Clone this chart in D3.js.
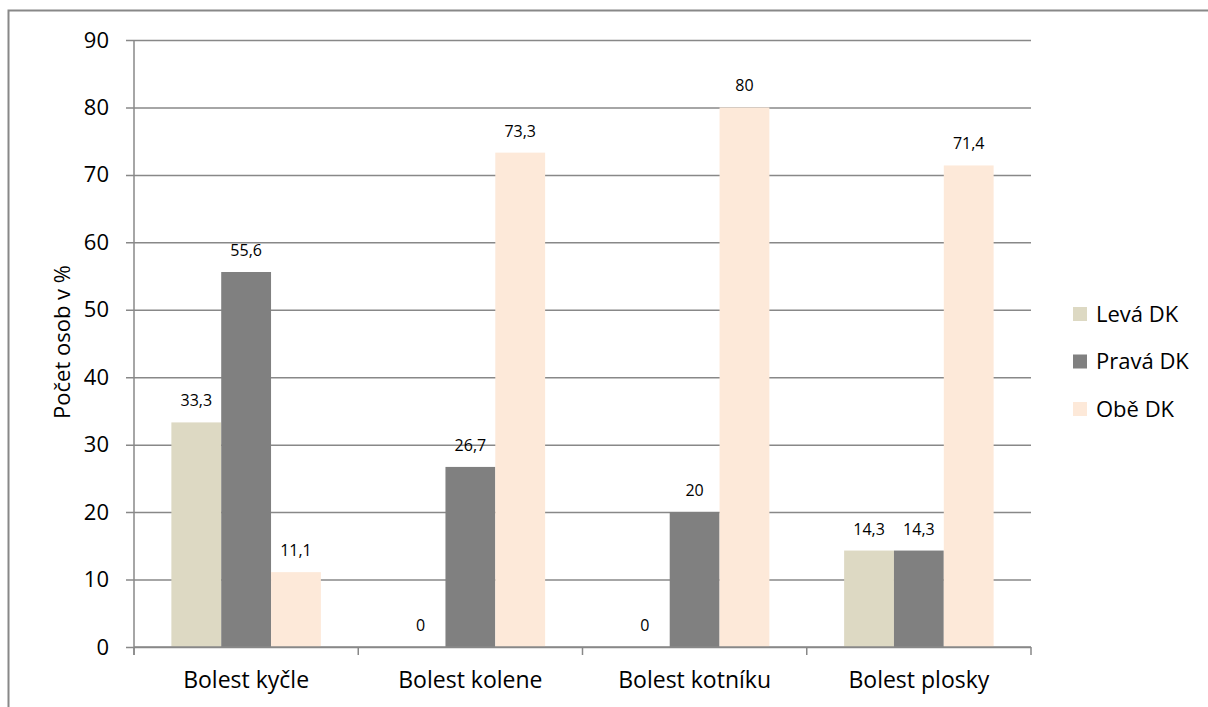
<!DOCTYPE html>
<html>
<head>
<meta charset="utf-8">
<script src="https://cdn.jsdelivr.net/npm/d3@7"></script>
<style>
  html, body { margin: 0; padding: 0; background: #fff; }
  svg { display: block; font-family: "Open Sans", Lato, sans-serif; }
</style>
</head>
<body>
<svg id="chart" width="1208" height="707"></svg>
<script>
// Pain location by affected limb (percent of persons)
const categories = ["Bolest kyčle", "Bolest kolene", "Bolest kotníku", "Bolest plosky"];
const seriesNames = ["Levá DK", "Pravá DK", "Obě DK"];
const levaDK  = [33.3, 0, 0, 14.3];
const pravaDK = [55.6, 26.7, 20, 14.3];
const obeDK   = [11.1, 73.3, 80, 71.4];
const yTicks = [0, 10, 20, 30, 40, 50, 60, 70, 80, 90];
const yTitle = "Počet osob v %";

const seriesValues = [levaDK, pravaDK, obeDK];
const colors = ["#ddd9c3", "#808080", "#fde9d9"];

const svg = d3.select("#chart");
const gridColor = "#888888";
const fontFamily = "'Open Sans', Lato, sans-serif";

// outer chart frame
svg.append("rect")
  .attr("x", 8.5).attr("y", 10.5)
  .attr("width", 1400).attr("height", 900)
  .attr("fill", "none").attr("stroke", "#888888").attr("stroke-width", 2);

const plotLeft = 134, plotRight = 1031, plotTop = 40, plotBottom = 647;

const y = d3.scaleLinear().domain([0, 90]).range([plotBottom, plotTop]);
const x0 = d3.scaleBand().domain(categories).range([plotLeft, plotRight]).paddingInner(0).paddingOuter(0);
const groupInset = x0.bandwidth() / 6;
const x1 = d3.scaleBand().domain(seriesNames)
  .range([groupInset, x0.bandwidth() - groupInset]).padding(0);

// horizontal gridlines with left tick marks
const yAxis = d3.axisLeft(y).tickValues(yTicks)
  .tickSize(-(plotRight - plotLeft)).tickSizeOuter(0).tickPadding(25)
  .tickFormat(d3.format("d"));
const gy = svg.append("g").attr("transform", `translate(${plotLeft},0)`).call(yAxis);
gy.select(".domain").remove();
gy.selectAll(".tick line")
  .attr("x1", -8)
  .attr("stroke", gridColor).attr("stroke-width", 1.5);
gy.selectAll(".tick text")
  .attr("font-size", 22).attr("fill", "#000")
  .attr("font-family", fontFamily);

// bars
const groups = svg.append("g").selectAll("g")
  .data(categories)
  .join("g")
  .attr("transform", d => `translate(${x0(d)},0)`);

groups.selectAll("rect")
  .data((c, i) => seriesNames.map((s, k) => ({ s, v: seriesValues[k][i], k })))
  .join("rect")
  .attr("x", d => x1(d.s))
  .attr("y", d => y(d.v))
  .attr("width", x1.bandwidth())
  .attr("height", d => y(0) - y(d.v))
  .attr("fill", d => colors[d.k]);

// value labels
groups.selectAll("text.val")
  .data((c, i) => seriesNames.map((s, k) => ({ s, v: seriesValues[k][i], k })))
  .join("text")
  .attr("class", "val")
  .attr("x", d => x1(d.s) + x1.bandwidth() / 2)
  .attr("y", d => y(d.v) - 16)
  .attr("text-anchor", "middle")
  .attr("font-size", 16)
  .attr("fill", "#000")
  .text(d => String(d.v).replace(".", ","));

// vertical axis line
svg.append("line")
  .attr("x1", plotLeft).attr("x2", plotLeft)
  .attr("y1", plotTop).attr("y2", plotBottom + 8)
  .attr("stroke", gridColor).attr("stroke-width", 1.5);

// category axis
const xAxis = d3.axisBottom(x0).tickSize(0);
const gx = svg.append("g").attr("transform", `translate(0,${plotBottom})`).call(xAxis);
gx.select(".domain").remove();
gx.selectAll(".tick text")
  .attr("y", 41).attr("dy", 0)
  .attr("font-size", 23).attr("fill", "#000")
  .attr("font-family", fontFamily);
svg.append("line")
  .attr("x1", plotLeft).attr("x2", plotRight)
  .attr("y1", plotBottom).attr("y2", plotBottom)
  .attr("stroke", gridColor).attr("stroke-width", 1.5);
// category separators
const boundaries = categories.map(c => x0(c)).concat([plotRight]);
svg.append("g").selectAll("line")
  .data(boundaries)
  .join("line")
  .attr("x1", d => d).attr("x2", d => d)
  .attr("y1", plotBottom).attr("y2", plotBottom + 8)
  .attr("stroke", gridColor).attr("stroke-width", 1.5);

// y axis title
svg.append("text")
  .attr("transform", "translate(70,342) rotate(-90)")
  .attr("text-anchor", "middle")
  .attr("font-size", 22)
  .attr("fill", "#000")
  .text(yTitle);

// legend
const legend = svg.append("g").attr("transform", "translate(1073,314)");
const item = legend.selectAll("g")
  .data(seriesNames)
  .join("g")
  .attr("transform", (d, i) => `translate(0,${i * 47.5})`);
item.append("rect")
  .attr("x", 0).attr("y", -7)
  .attr("width", 14).attr("height", 14)
  .attr("fill", (d, i) => colors[i]);
item.append("text")
  .attr("x", 23).attr("y", 0)
  .attr("dy", "0.35em")
  .attr("font-size", 22)
  .attr("fill", "#000")
  .text(d => d);
</script>
</body>
</html>
